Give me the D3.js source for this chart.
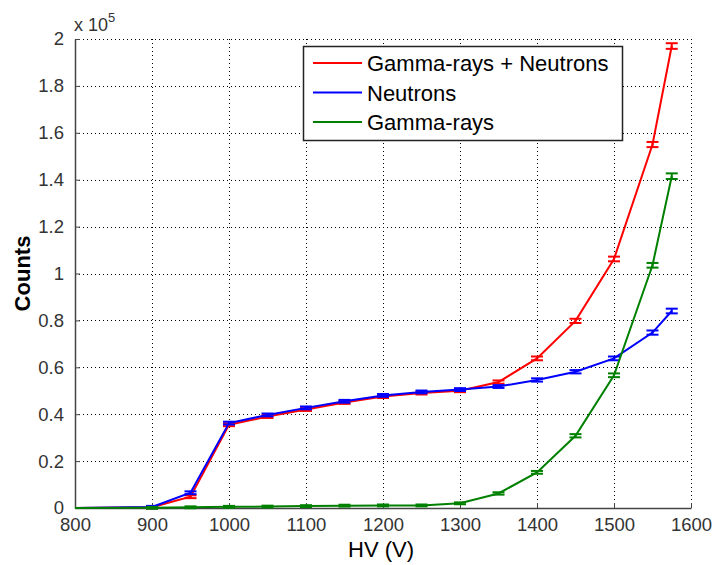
<!DOCTYPE html>
<html>
<head>
<meta charset="utf-8">
<script src="https://cdn.jsdelivr.net/npm/d3@7"></script>
<style>
  body { margin: 0; background: #fff; }
  svg { display: block; font-family: "Liberation Sans", Arial, sans-serif; }
  .grid line { stroke: #000; stroke-width: 1; stroke-dasharray: 1,3; shape-rendering: crispEdges; }
  .tick text { fill: #333; }
</style>
</head>
<body>
<svg id="chart" width="713" height="565"></svg>
<script>
// HV settings (V) and counts (x 10^5)
const hv = [800, 900, 950, 1000, 1050, 1100, 1150, 1200, 1250, 1300, 1350, 1400, 1450, 1500, 1550, 1575];
const gammaNeutrons = [0, 0.003, 0.048, 0.355, 0.39, 0.42, 0.45, 0.475, 0.49, 0.50, 0.537, 0.638, 0.798, 1.062, 1.55, 1.97];
const neutrons = [0, 0.004, 0.065, 0.362, 0.397, 0.427, 0.455, 0.48, 0.495, 0.505, 0.518, 0.546, 0.581, 0.638, 0.748, 0.84];
const gammas = [0, 0.001, 0.003, 0.005, 0.006, 0.008, 0.01, 0.011, 0.011, 0.02, 0.062, 0.152, 0.308, 0.566, 1.035, 1.415];
const errGN = [0.005, 0.005, 0.006, 0.006, 0.006, 0.006, 0.006, 0.006, 0.006, 0.006, 0.007, 0.008, 0.009, 0.01, 0.011, 0.012];
const errN = [0.005, 0.005, 0.006, 0.006, 0.006, 0.006, 0.006, 0.006, 0.006, 0.006, 0.006, 0.007, 0.007, 0.008, 0.009, 0.01];
const errG = [0.004, 0.004, 0.004, 0.004, 0.004, 0.004, 0.004, 0.004, 0.004, 0.004, 0.005, 0.006, 0.007, 0.008, 0.01, 0.012];
const xTicks = [800, 900, 1000, 1100, 1200, 1300, 1400, 1500, 1600];
const yTicks = [0, 0.2, 0.4, 0.6, 0.8, 1, 1.2, 1.4, 1.6, 1.8, 2];

const series = [
  { name: "Gamma-rays + Neutrons", values: gammaNeutrons, err: errGN, color: "#ff0000" },
  { name: "Neutrons", values: neutrons, err: errN, color: "#0000ff" },
  { name: "Gamma-rays", values: gammas, err: errG, color: "#008000" },
];

const svg = d3.select("#chart");
const plotL = 75, plotR = 691, plotT = 39, plotB = 508;

const x = d3.scaleLinear().domain([800, 1600]).range([plotL, plotR]);
const y = d3.scaleLinear().domain([0, 2]).range([plotB, plotT]);

// --- grid ---
const grid = svg.append("g").attr("class", "grid");
grid.selectAll(".gx").data(xTicks.slice(1)).enter().append("line")
  .attr("x1", (d) => Math.round(x(d)) + 0.5).attr("x2", (d) => Math.round(x(d)) + 0.5)
  .attr("y1", plotB).attr("y2", plotT);
grid.selectAll(".gy").data(yTicks.slice(1)).enter().append("line")
  .attr("x1", plotL).attr("x2", plotR)
  .attr("y1", (d) => Math.round(y(d)) + 0.5).attr("y2", (d) => Math.round(y(d)) + 0.5);

// --- axes ---
const xAxis = svg.append("g").attr("transform", `translate(0,${plotB})`)
  .call(d3.axisBottom(x).tickValues(xTicks).tickFormat(d3.format("d"))
    .tickSizeInner(-5).tickSizeOuter(0).tickPadding(10));
const yAxis = svg.append("g").attr("transform", `translate(${plotL},0)`)
  .call(d3.axisLeft(y).tickValues(yTicks).tickFormat((d) => String(+d.toFixed(1)))
    .tickSizeInner(-5).tickSizeOuter(0).tickPadding(11));
[xAxis, yAxis].forEach((a) => {
  a.select(".domain").attr("stroke", "#444").attr("stroke-width", 1.5);
  a.selectAll(".tick line").attr("stroke", "#444");
  a.selectAll(".tick text").attr("font-size", 18.5).attr("font-family", "Liberation Sans, Arial, sans-serif");
});

// exponent label
const expo = svg.append("text").attr("x", 74).attr("y", 31)
  .attr("font-size", 18).attr("fill", "#333");
expo.append("tspan").text("x 10");
expo.append("tspan").attr("dy", -9).attr("font-size", 13).text("5");

// axis titles
svg.append("text").attr("x", x(1200) - 2).attr("y", 557)
  .attr("text-anchor", "middle").attr("font-size", 22).text("HV (V)");
svg.append("text").attr("transform", `translate(30,${(plotT + plotB) / 2}) rotate(-90)`)
  .attr("text-anchor", "middle").attr("font-size", 22).attr("font-weight", "bold").text("Counts");

// --- series ---
const line = d3.line().x((d) => x(d[0])).y((d) => y(d[1]));
const capW = 6;
series.forEach((s) => {
  const pts = hv.map((h, i) => [h, s.values[i], s.err[i]]);
  const g = svg.append("g");
  g.append("path").datum(pts).attr("d", line)
    .attr("fill", "none").attr("stroke", s.color).attr("stroke-width", 2);
  const eb = g.selectAll(".eb").data(pts.slice(1)).enter().append("g");
  eb.append("line")
    .attr("x1", (d) => x(d[0])).attr("x2", (d) => x(d[0]))
    .attr("y1", (d) => y(d[1] - d[2])).attr("y2", (d) => y(d[1] + d[2]));
  eb.append("line")
    .attr("x1", (d) => x(d[0]) - capW).attr("x2", (d) => x(d[0]) + capW)
    .attr("y1", (d) => y(d[1] - d[2])).attr("y2", (d) => y(d[1] - d[2]));
  eb.append("line")
    .attr("x1", (d) => x(d[0]) - capW).attr("x2", (d) => x(d[0]) + capW)
    .attr("y1", (d) => y(d[1] + d[2])).attr("y2", (d) => y(d[1] + d[2]));
  eb.selectAll("line").attr("stroke", s.color).attr("stroke-width", 2);
});

// --- legend ---
const lg = svg.append("g");
lg.append("rect").attr("x", 303.5).attr("y", 46.5).attr("width", 319).attr("height", 94)
  .attr("fill", "#fff").attr("stroke", "#222").attr("stroke-width", 1.5);
series.forEach((s, i) => {
  const cy = 63 + i * 29.5;
  lg.append("line").attr("x1", 313).attr("x2", 362).attr("y1", cy).attr("y2", cy)
    .attr("stroke", s.color).attr("stroke-width", 2);
  lg.append("text").attr("x", 367).attr("y", cy + 8).attr("font-size", 22).text(s.name);
});
</script>
</body>
</html>
